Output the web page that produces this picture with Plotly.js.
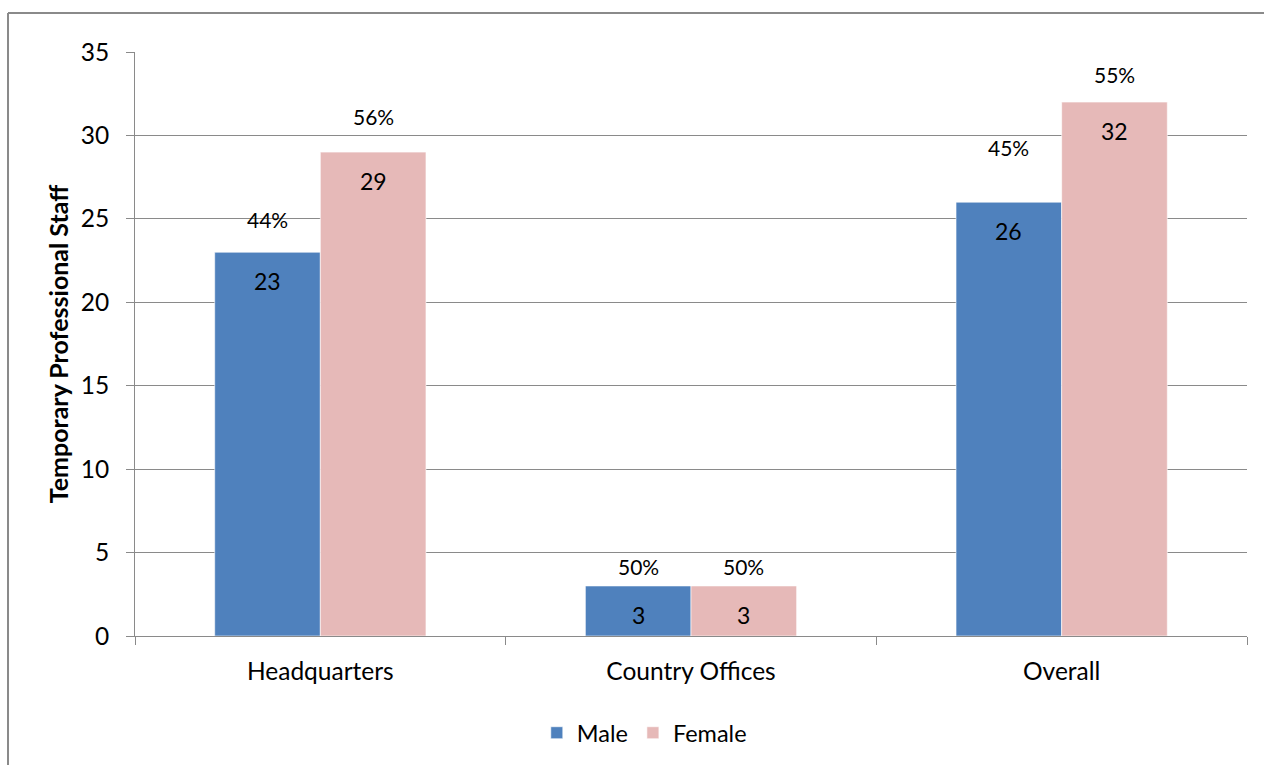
<!DOCTYPE html>
<html>
<head>
<meta charset="utf-8">
<script src="https://cdn.plot.ly/plotly-3.0.1.min.js"></script>
<style>
  html, body { margin: 0; padding: 0; background: #ffffff; }
  #chart { width: 1264px; height: 765px; }
</style>
</head>
<body>
<div id="chart"></div>
<script>
// Temporary professional staff by location and sex
const categories = ['Headquarters', 'Country Offices', 'Overall'];
const maleStaff = [23, 3, 26];
const femaleStaff = [29, 3, 32];
const seriesNames = ['Male', 'Female'];

// Vertical pixel offsets of the share labels above each bar
const maleShareShift = [33, 19, 55];
const femaleShareShift = [36, 19, 28];

const FONT = 'Lato, "Open Sans", "Liberation Sans", sans-serif';
const GRID = '#8a8a8a';
const BAR_W = 0.285;

const male = {
  type: 'bar', name: seriesNames[0], x: categories, y: maleStaff,
  width: BAR_W, offset: -BAR_W,
  marker: { color: '#4f81bd', line: { color: '#ffffff', width: 0.6 } },
  hoverinfo: 'skip'
};
const female = {
  type: 'bar', name: seriesNames[1], x: categories, y: femaleStaff,
  width: BAR_W, offset: 0,
  marker: { color: '#e6b9b8', line: { color: '#ffffff', width: 0.6 } },
  hoverinfo: 'skip'
};

// Value labels inside the bars and percentage-share labels above them
const annotations = [];
categories.forEach((c, i) => {
  const total = maleStaff[i] + femaleStaff[i];
  const sets = [
    { v: maleStaff[i], dx: -BAR_W / 2, shift: maleShareShift[i] },
    { v: femaleStaff[i], dx: BAR_W / 2, shift: femaleShareShift[i] }
  ];
  sets.forEach(s => {
    annotations.push({
      xref: 'x', yref: 'y', x: i + s.dx, y: s.v, yshift: -29,
      text: String(s.v), showarrow: false,
      font: { family: FONT, size: 23, color: '#000000' }
    });
    annotations.push({
      xref: 'x', yref: 'y', x: i + s.dx, y: s.v, yshift: s.shift,
      text: Math.round(100 * s.v / total) + '%', showarrow: false,
      font: { family: FONT, size: 21, color: '#000000' }
    });
  });
});

const layout = {
  width: 1264, height: 765,
  margin: { l: 135, r: 17, t: 52, b: 129, autoexpand: false },
  paper_bgcolor: '#ffffff', plot_bgcolor: '#ffffff',
  font: { family: FONT, size: 24, color: '#000000' },
  barmode: 'group',
  showlegend: true,
  legend: {
    orientation: 'h', x: 0.458, xanchor: 'center', y: -0.166, yanchor: 'middle',
    font: { family: FONT, size: 23.5, color: '#000000' },
    itemclick: false, itemdoubleclick: false
  },
  xaxis: {
    type: 'category', range: [-0.5, 2.5],
    showgrid: false, zeroline: false,
    showline: true, linecolor: GRID, linewidth: 1,
    ticks: 'outside', tickson: 'boundaries', ticklen: 8, tickcolor: GRID,
    ticklabelstandoff: 14,
    tickfont: { family: FONT, size: 24.5, color: '#000000' }
  },
  yaxis: {
    range: [0, 35], dtick: 5, tick0: 0,
    showgrid: true, gridcolor: GRID, gridwidth: 1,
    zeroline: false,
    showline: true, linecolor: GRID, linewidth: 1,
    ticks: 'outside', ticklen: 8, tickcolor: GRID,
    ticklabelstandoff: 12,
    tickfont: { family: FONT, size: 24.5, color: '#000000' },
    title: {
      text: '<b>Temporary Professional Staff</b>',
      font: { family: FONT, size: 25, color: '#000000' },
      standoff: 4
    }
  },
  annotations: annotations,
  shapes: [
    { type: 'line', xref: 'paper', yref: 'paper', x0: -0.1142, x1: -0.1142, y0: 1.0668, y1: -0.3, line: { color: '#8a8a8a', width: 2 } },
    { type: 'line', xref: 'paper', yref: 'paper', x0: -0.1142, x1: 1.05, y0: 1.0668, y1: 1.0668, line: { color: '#8a8a8a', width: 2 } }
  ]
};

Plotly.newPlot('chart', [male, female], layout, { displayModeBar: false, staticPlot: true });
</script>
</body>
</html>
